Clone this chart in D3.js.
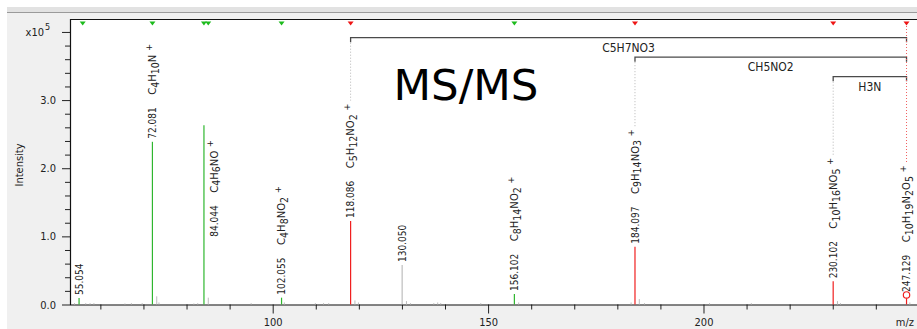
<!DOCTYPE html>
<html>
<head>
<meta charset="utf-8">
<script src="https://cdn.jsdelivr.net/npm/d3@7"></script>
<style>
  html, body { margin: 0; padding: 0; background: #ffffff; }
  svg text { font-family: "DejaVu Sans Condensed", "DejaVu Sans", sans-serif; font-stretch: condensed; }
  .title { font-family: "DejaVu Sans", sans-serif; font-stretch: normal; }
</style>
</head>
<body>
<svg id="chart" width="917" height="329"></svg>
<script>
// ---- Annotated fragment peaks (intensity in units of 1e5 counts) ----
const peakMz        = [55.054, 72.081, 84.044, 102.055, 118.086, 130.050, 156.102, 184.097, 230.102, 247.129];
const peakIntensity = [0.095, 2.388, 2.629, 0.100, 1.225, 0.579, 0.154, 0.848, 0.340, 0.140];
const peakKind      = ["green", "green", "green", "green", "red", "gray", "green", "red", "red", "red"];
const peakFormula   = ["", "C4H10N+", "C4H6NO+", "C4H8NO2+", "C5H12NO2+", "", "C8H14NO2+", "C9H14NO3+", "C10H16NO5+", "C10H19N2O5+"];
const precursorMz   = 247.129;

// ---- Small unannotated peaks (isotopes and noise) ----
const minorMz        = [54.0, 56.6, 57.6, 58.5, 65.7, 67.2, 69.7, 73.084, 73.6, 81.7, 82.6, 85.047, 95.0, 102.7,
                        109.9, 111.8, 113.0, 119.09, 119.9, 131.05, 132.0, 137.4, 138.3, 139.0, 148.3, 157.1,
                        183.2, 185.1, 186.3, 201.4, 211.1, 231.1, 231.8, 247.9];
const minorIntensity = [0.02, 0.02, 0.02, 0.02, 0.015, 0.02, 0.02, 0.12, 0.03, 0.015, 0.02, 0.10, 0.02, 0.03,
                        0.02, 0.02, 0.02, 0.06, 0.03, 0.05, 0.02, 0.02, 0.03, 0.02, 0.02, 0.03,
                        0.03, 0.08, 0.02, 0.02, 0.02, 0.05, 0.02, 0.03];

// ---- Identified-ion markers along the top edge ----
const markerMz   = [55.9, 72.081, 84.044, 85.047, 102.055, 118.086, 156.102, 184.097, 230.102, 247.129];
const markerKind = ["green", "green", "green", "green", "green", "red", "green", "red", "red", "red"];

// ---- Neutral losses from the precursor ----
const lossFromMz = [118.086, 184.097, 230.102];
const lossLabel  = ["C5H7NO3", "CH5NO2", "H3N"];

// ---- Axis ticks ----
const yMajorTicks = [0, 1, 2, 3, 4];
const yTickLabels = ["0.0", "1.0", "2.0", "3.0", ""];
const xMajorTicks = [100, 150, 200];
const xTickLabels = ["100", "150", "200"];

// Label placement tweaks (pixel shift and anchoring level) for crowded peaks
const labelAdjustMz    = [84.044];
const labelAdjustDx    = [10];
const labelAdjustLevel = [0.95];

const W = 917, H = 329;
const plot = { left: 70, top: 19, right: W, bottom: 304.5 };
const colors = { green: "#2fb62f", red: "#f02020", gray: "#bdbdbd" };

const svg = d3.select("#chart");

const x = d3.scaleLinear().domain([52.95, 249.56]).range([plot.left, plot.right]);
const y = d3.scaleLinear().domain([0, 4.19]).range([plot.bottom, plot.top]);

// ---- Window chrome and background ----
svg.append("rect").attr("x", 0).attr("y", 0).attr("width", W).attr("height", H).attr("fill", "#f0f0f0");
svg.append("rect").attr("x", 0).attr("y", 0).attr("width", W).attr("height", 7).attr("fill", "#ffffff");
svg.append("rect").attr("x", 0).attr("y", 0).attr("width", 7).attr("height", H).attr("fill", "#ffffff");
svg.append("rect").attr("x", 7).attr("y", 7).attr("width", W - 7).attr("height", 5).attr("fill", "#e2e2e2");
svg.append("line").attr("x1", 7).attr("x2", W).attr("y1", 12.5).attr("y2", 12.5).attr("stroke", "#9a9a9a");
svg.append("rect").attr("x", plot.left).attr("y", plot.top)
  .attr("width", plot.right - plot.left).attr("height", plot.bottom - plot.top).attr("fill", "#ffffff");
svg.append("line").attr("x1", plot.left).attr("x2", W).attr("y1", plot.top + 0.5).attr("y2", plot.top + 0.5)
  .attr("stroke", "#111").attr("stroke-width", 1.2);

// ---- Axes ----
const yMinor = d3.range(0, 4.01, 0.2).filter(v => !yMajorTicks.some(t => Math.abs(t - v) < 1e-6));
const xMinor = d3.range(60, 250, 10).filter(v => !xMajorTicks.includes(v));

function styleAxis(g) {
  g.select(".domain").remove();
  g.selectAll(".tick line").attr("stroke", "#222");
  g.selectAll(".tick text").attr("fill", "#222").attr("font-size", 11);
}

svg.append("g").attr("transform", `translate(${plot.left},0)`)
  .call(d3.axisLeft(y).tickValues(yMinor).tickSize(5).tickFormat(""))
  .call(styleAxis);
svg.append("g").attr("transform", `translate(${plot.left},0)`)
  .call(d3.axisLeft(y).tickValues(yMajorTicks).tickSize(8).tickPadding(6)
    .tickFormat((d, i) => yTickLabels[i]))
  .call(styleAxis);

svg.append("g").attr("transform", `translate(0,${plot.bottom})`)
  .call(d3.axisBottom(x).tickValues(xMinor).tickSize(5).tickFormat(""))
  .call(styleAxis);
svg.append("g").attr("transform", `translate(0,${plot.bottom})`)
  .call(d3.axisBottom(x).tickValues(xMajorTicks).tickSize(9).tickPadding(5)
    .tickFormat((d, i) => xTickLabels[i]))
  .call(styleAxis);

svg.append("line").attr("x1", plot.left + 0.5).attr("x2", plot.left + 0.5)
  .attr("y1", plot.top).attr("y2", plot.bottom + 0.5).attr("stroke", "#111").attr("stroke-width", 1.2);
svg.append("line").attr("x1", plot.left).attr("x2", W)
  .attr("y1", plot.bottom + 0.5).attr("y2", plot.bottom + 0.5).attr("stroke", "#111").attr("stroke-width", 1.2);

// Exponent label on the top y tick
svg.append("text").attr("x", 44).attr("y", y(4) + 4)
  .attr("text-anchor", "end").attr("font-size", 11).attr("fill", "#222").text("x10");
svg.append("text").attr("x", 45).attr("y", y(4) - 2).attr("font-size", 9).attr("fill", "#222").text("5");

svg.append("text").attr("transform", `translate(23,165) rotate(-90)`)
  .attr("text-anchor", "middle").attr("font-size", 11).attr("fill", "#222").text("Intensity");
svg.append("text").attr("x", 914).attr("y", 326).attr("text-anchor", "end")
  .attr("font-size", 11).attr("fill", "#222").text("m/z");

// ---- Title ----
svg.append("text").attr("class", "title").attr("x", 466).attr("y", 100)
  .attr("text-anchor", "middle").attr("font-size", 43.5).attr("fill", "#000").text("MS/MS");

// ---- Peaks ----
const peaks = peakMz.map((mz, i) => ({
  mz, intensity: peakIntensity[i], kind: peakKind[i], formula: peakFormula[i]
}));
const minors = minorMz.map((mz, i) => ({ mz, intensity: minorIntensity[i] }));

svg.append("g").selectAll("line").data(minors).join("line")
  .attr("x1", d => x(d.mz)).attr("x2", d => x(d.mz))
  .attr("y1", y(0)).attr("y2", d => y(d.intensity))
  .attr("stroke", colors.gray).attr("stroke-width", 1);

svg.append("g").selectAll("line").data(peaks).join("line")
  .attr("x1", d => x(d.mz)).attr("x2", d => x(d.mz))
  .attr("y1", y(0))
  .attr("y2", d => d.mz === precursorMz ? y(d.intensity) + 3.3 : y(d.intensity))
  .attr("stroke", d => colors[d.kind]).attr("stroke-width", 1.2);

const prec = peaks.find(p => p.mz === precursorMz);
svg.append("circle").attr("cx", x(prec.mz)).attr("cy", y(prec.intensity)).attr("r", 3.2)
  .attr("fill", "none").attr("stroke", colors.red).attr("stroke-width", 1.2);

// ---- Top markers ----
svg.append("g").selectAll("path").data(markerMz.map((mz, i) => ({ mz, kind: markerKind[i] }))).join("path")
  .attr("d", d => { const cx = x(d.mz); return `M${cx - 3},21.5L${cx + 3},21.5L${cx},25.5Z`; })
  .attr("fill", d => d.kind === "green" ? "#1dbb1d" : "#ee1515");

// ---- Peak labels (rotated, m/z followed by the ion formula) ----
function formulaTokens(f) {
  const out = [];
  const charge = f.endsWith("+");
  const body = charge ? f.slice(0, -1) : f;
  body.match(/[A-Z][a-z]?|\d+/g).forEach(t => out.push({ t, sub: /\d/.test(t) }));
  if (charge) out.push({ t: "+", sup: true });
  return out;
}

const labelTop = new Map();
peaks.forEach(p => {
  const adj = labelAdjustMz.indexOf(p.mz);
  const dx = adj >= 0 ? labelAdjustDx[adj] : 0;
  const level = adj >= 0 ? labelAdjustLevel[adj] : p.intensity;
  const ax = x(p.mz) + dx + 3.6;
  const ay = y(level) - 3;
  const t = svg.append("text").attr("transform", `translate(${ax},${ay}) rotate(-90)`)
    .attr("font-size", 10).attr("fill", "#222");
  t.append("tspan").text(p.mz.toFixed(3));
  if (p.formula) {
    let shift = 0, first = true;
    formulaTokens(p.formula).forEach(tok => {
      const target = tok.sub ? 2.8 : tok.sup ? -4.2 : 0;
      const ts = t.append("tspan").attr("dy", target - shift).text(tok.t)
        .attr("font-size", tok.sup ? 9.5 : tok.sub ? 10.5 : 11.2);
      if (first) ts.attr("dx", 12.5);
      if (tok.sup) ts.attr("dx", 3.5);
      shift = target;
      first = false;
    });
  }
  const bb = t.node().getBBox();
  labelTop.set(p.mz, ay - (bb.x + bb.width));
});

// ---- Neutral-loss brackets ----
const precX = x(precursorMz);
lossFromMz.forEach((mz, i) => {
  const lx = x(mz);
  const ly = 37.7 + i * 19.5;
  svg.append("path")
    .attr("d", `M${lx},${ly + 4.5}V${ly}H${precX}V${ly + 4.5}`)
    .attr("fill", "none").attr("stroke", "#4a4a4a").attr("stroke-width", 1.3);
  svg.append("text").attr("x", (lx + precX) / 2).attr("y", ly + 14)
    .attr("text-anchor", "middle").attr("font-size", 12).attr("fill", "#222").text(lossLabel[i]);
  svg.append("line").attr("x1", lx).attr("x2", lx)
    .attr("y1", ly + 5).attr("y2", labelTop.get(mz) - 3)
    .attr("stroke", "#b5b5b5").attr("stroke-dasharray", "1,2");
});
svg.append("line").attr("x1", precX).attr("x2", precX)
  .attr("y1", 26).attr("y2", labelTop.get(precursorMz) - 3)
  .attr("stroke", "#f06060").attr("stroke-dasharray", "1,2");
</script>
</body>
</html>
